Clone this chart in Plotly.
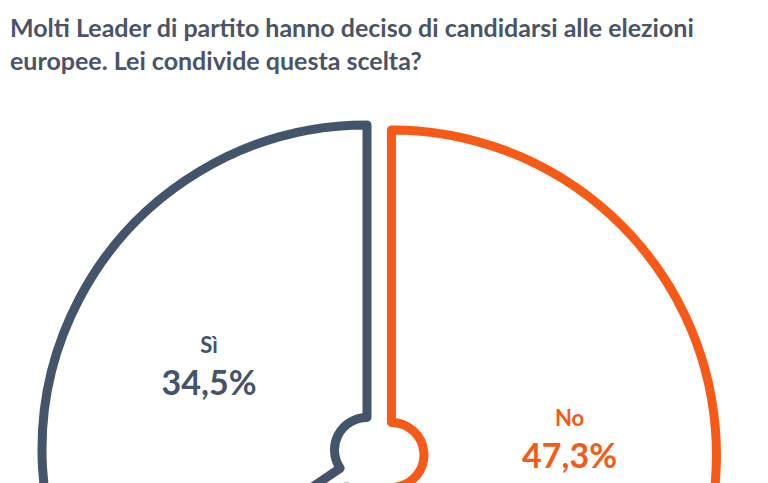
import plotly.graph_objects as go

# survey answers (the "Non sa" share is what is left to 100%)
labels = ["No", "Non sa", "Sì"]
values = [47.3, 18.2, 34.5]
colors = ["#f65a16", "#bfbfbf", "#44546a"]

title = ("Molti Leader di partito hanno deciso di candidarsi alle elezioni<br>"
         "europee. Lei condivide questa scelta?")

W, TOP, BOX = 768, 110, 676

fig = go.Figure(
    go.Pie(
        labels=labels,
        values=values,
        sort=False,
        direction="clockwise",
        rotation=0,
        hole=0.1,
        pull=0.04,
        marker=dict(colors=["white"] * len(values),
                    line=dict(color=colors, width=9)),
        textposition="inside",
        insidetextorientation="horizontal",
        texttemplate=("<span style='font-size:22px'>%{label}</span><br>"
                      "<span style='font-size:34px'>%{value:.1f}%</span>"),
        textfont=dict(family="Lato", size=32, color=colors, weight="bold"),
        hoverinfo="skip",
        showlegend=False,
    )
)

fig.add_annotation(
    text=title, align="left", showarrow=False,
    xref="paper", yref="paper", x=0, xanchor="left",
    y=1 + (TOP - 2) / BOX, yanchor="top",
    font=dict(family="Lato", size=25, color="#4b5466", weight="bold"),
)

fig.update_layout(
    width=W,
    height=TOP + BOX,
    margin=dict(l=0, r=27, t=TOP, b=0),
    separators=",.",
    paper_bgcolor="white",
)

fig.write_html("out.html")
